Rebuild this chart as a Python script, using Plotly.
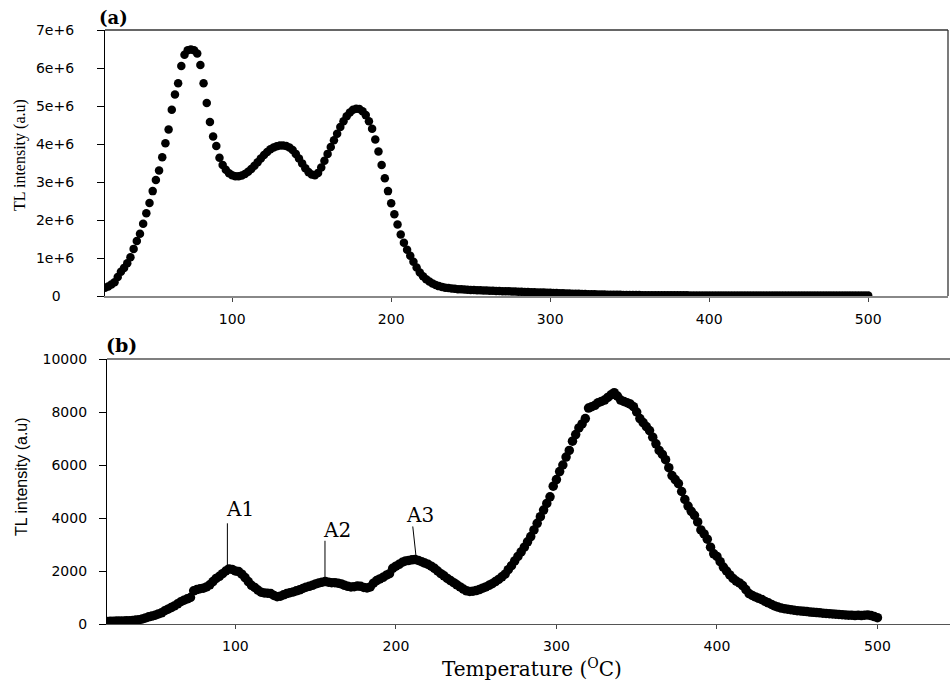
import plotly.graph_objects as go

# ---------------- data ----------------
temps = list(range(20, 501, 2))  # temperature grid (°C), 241 points

# panel (a): TL intensity in units of 1e6 (a.u.)
top_vals_m = [
    0.22, 0.25, 0.30, 0.36, 0.50, 0.64, 0.74, 0.86, 1.02, 1.24,   # 20-38
    1.45, 1.64, 1.90, 2.18, 2.45, 2.76, 3.05, 3.30, 3.65, 4.02,   # 40-58
    4.38, 4.90, 5.30, 5.60, 6.05, 6.35, 6.47, 6.49, 6.47, 6.38,   # 60-78
    6.08, 5.60, 5.08, 4.58, 4.20, 3.95, 3.64, 3.45, 3.32, 3.23,   # 80-98
    3.18, 3.15, 3.15, 3.17, 3.21, 3.27, 3.34, 3.43, 3.52, 3.62,   # 100-118
    3.71, 3.79, 3.86, 3.91, 3.94, 3.96, 3.96, 3.95, 3.91, 3.84,   # 120-138
    3.74, 3.62, 3.49, 3.36, 3.26, 3.20, 3.18, 3.24, 3.38, 3.56,   # 140-158
    3.74, 3.92, 4.10, 4.27, 4.45, 4.60, 4.73, 4.83, 4.90, 4.93,   # 160-178
    4.92, 4.86, 4.76, 4.60, 4.40, 4.12, 3.80, 3.45, 3.10, 2.76,   # 180-198
    2.44, 2.15, 1.88, 1.62, 1.40, 1.22, 1.06, 0.90, 0.75, 0.62,   # 200-218
    0.52, 0.44, 0.38, 0.33, 0.29, 0.26, 0.24, 0.22, 0.21, 0.20,   # 220-238
    0.19, 0.18, 0.175, 0.17, 0.165, 0.16, 0.155, 0.152, 0.149, 0.146,  # 240-258
    0.143, 0.14, 0.137, 0.134, 0.131, 0.128, 0.125, 0.122, 0.119, 0.116,  # 260-278
    0.113, 0.11, 0.107, 0.104, 0.101, 0.098, 0.095, 0.092, 0.089, 0.086,  # 280-298
    0.083, 0.080, 0.077, 0.074, 0.071, 0.068, 0.065, 0.062, 0.059, 0.056,  # 300-318
    0.053, 0.050, 0.048, 0.046, 0.044, 0.042, 0.040, 0.038, 0.036, 0.034,  # 320-338
    0.032, 0.031, 0.030, 0.029, 0.028, 0.027, 0.026, 0.025, 0.024, 0.023,  # 340-358
    0.022, 0.022, 0.021, 0.021, 0.020, 0.020, 0.019, 0.019, 0.018, 0.018,  # 360-378
    0.018, 0.017, 0.017, 0.017, 0.016, 0.016, 0.016, 0.015, 0.015, 0.015,  # 380-398
    0.015, 0.014, 0.014, 0.014, 0.014, 0.013, 0.013, 0.013, 0.013, 0.013,  # 400-418
    0.012, 0.012, 0.012, 0.012, 0.012, 0.012, 0.012, 0.012, 0.012, 0.012,  # 420-438
    0.012, 0.012, 0.011, 0.011, 0.011, 0.011, 0.011, 0.011, 0.011, 0.011,  # 440-458
    0.011, 0.011, 0.011, 0.011, 0.011, 0.011, 0.011, 0.011, 0.011, 0.011,  # 460-478
    0.010, 0.010, 0.010, 0.010, 0.010, 0.010, 0.010, 0.010, 0.010, 0.010,  # 480-498
    0.010,                                                            # 500
]

# panel (b): TL intensity (a.u.)
bottom_vals = [
    90, 100, 100, 110, 110, 110, 120, 120, 130, 150,            # 20-38
    160, 190, 230, 270, 300, 330, 380, 420, 500, 560,           # 40-58
    620, 680, 760, 840, 900, 950, 1000, 1250, 1300, 1330,       # 60-78
    1350, 1400, 1480, 1600, 1720, 1800, 1900, 2000, 2080, 2060, # 80-98
    2000, 1980, 1880, 1750, 1600, 1460, 1380, 1280, 1200, 1170, # 100-118
    1160, 1150, 1080, 1030, 1050, 1100, 1150, 1180, 1210, 1250, # 120-138
    1290, 1340, 1390, 1420, 1460, 1510, 1550, 1580, 1600, 1580, # 140-158
    1560, 1560, 1540, 1510, 1460, 1420, 1400, 1410, 1430, 1420, # 160-178
    1380, 1360, 1400, 1540, 1640, 1700, 1760, 1840, 1900, 2100, # 180-198
    2180, 2250, 2330, 2380, 2400, 2420, 2430, 2400, 2350, 2300, # 200-218
    2250, 2180, 2100, 2000, 1900, 1820, 1720, 1640, 1560, 1480, # 220-238
    1400, 1320, 1250, 1230, 1240, 1260, 1300, 1350, 1400, 1460, # 240-258
    1520, 1600, 1680, 1780, 1880, 2050, 2200, 2380, 2550, 2720, # 260-278
    2900, 3100, 3300, 3550, 3800, 4050, 4300, 4550, 4800, 5200, # 280-298
    5450, 5750, 6000, 6300, 6550, 6900, 7150, 7400, 7550, 7750, # 300-318
    8150, 8200, 8250, 8350, 8400, 8450, 8550, 8650, 8730, 8600, # 320-338
    8450, 8400, 8350, 8300, 8200, 8000, 7750, 7600, 7450, 7300, # 340-358
    7050, 6800, 6550, 6400, 6200, 5900, 5600, 5450, 5300, 5000, # 360-378
    4700, 4450, 4250, 4100, 3850, 3550, 3400, 3200, 2900, 2650, # 380-398
    2550, 2350, 2150, 2000, 1850, 1720, 1620, 1550, 1450, 1300, # 400-418
    1150, 1080, 1020, 970, 920, 850, 800, 740, 680, 640,        # 420-438
    600, 580, 560, 540, 520, 500, 490, 480, 470, 450,           # 440-458
    440, 430, 420, 410, 400, 390, 380, 370, 360, 350,           # 460-478
    340, 330, 330, 320, 330, 320, 330, 340, 320, 280,           # 480-498
    240,                                                        # 500
]

x_ticks = [100, 200, 300, 400, 500]
x_tick_labels = ["100", "200", "300", "400", "500"]
top_y_ticks = [0, 1e6, 2e6, 3e6, 4e6, 5e6, 6e6, 7e6]
top_y_labels = ["0", "1e+6", "2e+6", "3e+6", "4e+6", "5e+6", "6e+6", "7e+6"]
bottom_y_ticks = [0, 2000, 4000, 6000, 8000, 10000]
bottom_y_labels = ["0", "2000", "4000", "6000", "8000", "10000"]

peak_names = ["A1", "A2", "A3"]
peak_temps = [96, 156, 212]

# ---------------- figure ----------------
W, H = 950, 684
top_vals = [v * 1e6 for v in top_vals_m]
NB = "\u00a0"
# top-panel labels are centred in the reference: pad the short "0" label
top_y_text = [t if len(t) > 1 else t + NB * 3 for t in top_y_labels]

fig = go.Figure()
fig.add_trace(go.Scatter(x=temps, y=top_vals, mode="markers",
                         marker=dict(color="black", size=8.5, line=dict(width=0)),
                         xaxis="x", yaxis="y", showlegend=False, hoverinfo="skip"))
fig.add_trace(go.Scatter(x=temps, y=bottom_vals, mode="markers",
                         marker=dict(color="black", size=9.5, line=dict(width=0)),
                         xaxis="x2", yaxis="y2", showlegend=False, hoverinfo="skip"))

tickfont = dict(family="DejaVu Sans", size=14, color="black")
axis_common = dict(showgrid=False, zeroline=False, tickfont=tickfont, automargin=False)

fig.update_layout(
    width=W, height=H, autosize=False,
    margin=dict(l=0, r=0, t=0, b=0, pad=0, autoexpand=False),
    paper_bgcolor="white", plot_bgcolor="white",
    showlegend=False,
    xaxis=dict(domain=[105 / W, 948 / W], range=[20, 550.2], anchor="y",
               tickvals=x_ticks, ticktext=x_tick_labels,
               ticks="outside", ticklen=4, tickcolor="#444",
               showline=True, linecolor="#888", linewidth=1.6,
               ticklabelstandoff=5, **axis_common),
    yaxis=dict(domain=[1 - 296 / H, 1 - 30 / H], range=[0, 7e6], anchor="x",
               tickvals=top_y_ticks, ticktext=top_y_text,
               ticks="outside", ticklen=7, tickcolor="black",
               showline=True, linecolor="black", linewidth=1.2,
               ticklabelstandoff=20, **axis_common),
    xaxis2=dict(domain=[107 / W, 1.0], range=[20, 545.2], anchor="y2",
                tickvals=x_ticks, ticktext=x_tick_labels,
                ticks="outside", ticklen=4, tickcolor="#444",
                showline=True, linecolor="#555", linewidth=1.3,
                ticklabelstandoff=5, **axis_common),
    yaxis2=dict(domain=[1 - 624 / H, 1 - 359 / H], range=[0, 10000], anchor="x2",
                tickvals=bottom_y_ticks, ticktext=bottom_y_labels,
                ticks="outside", ticklen=7, tickcolor="black",
                showline=True, linecolor="black", linewidth=1.2,
                ticklabelstandoff=9, **axis_common),
)

# frame lines (top + right for panel a, top for panel b)
frame = dict(color="#333", width=1.3)
fig.add_shape(type="line", xref="x domain", yref="y domain", x0=0, x1=1, y0=1, y1=1, line=frame)
fig.add_shape(type="line", xref="x domain", yref="y domain", x0=1, x1=1, y0=0, y1=1, line=frame)
fig.add_shape(type="line", xref="x2 domain", yref="y2 domain", x0=0, x1=1, y0=1, y1=1,
              line=dict(color="#555", width=1.3))

# peak labels for panel b: (line-x shift, line-bottom gap, line-top rise, top-x shift, text-x shift, text rise)
label_style = [(-1.0, 110, 1720, 0.0, 6.6, 2250),
               (-0.2, 90, 1540, 0.0, 7.5, 1950),
               (0.5, 140, 1250, -2.0, 3.3, 1700)]
for name, t, (lx, gap, rise, tx, dx, trise) in zip(peak_names, peak_temps, label_style):
    v = bottom_vals[temps.index(t)]
    fig.add_shape(type="line", xref="x2", yref="y2",
                  x0=t + lx, x1=t + lx + tx, y0=v + gap, y1=v + rise,
                  line=dict(color="black", width=1))
    fig.add_annotation(xref="x2", yref="y2", x=t + dx, y=v + trise,
                       text=name, showarrow=False, xanchor="center", yanchor="middle",
                       font=dict(family="DejaVu Serif", size=20, color="black"))

# titles / panel labels
common = dict(xref="paper", yref="paper", showarrow=False, xanchor="center", yanchor="middle")
fig.add_annotation(x=20 / W, y=1 - 155 / H, text="TL intensity (a.u)", textangle=-90,
                   font=dict(family="Liberation Serif", size=16, color="black"), **common)
fig.add_annotation(x=22 / W, y=1 - 477 / H, text="TL intensity (a.u)", textangle=-90,
                   font=dict(family="Liberation Sans Narrow, Liberation Sans", size=16, color="black"),
                   **common)
fig.add_annotation(x=532 / W, y=1 - 668 / H, text="Temperature (<sup>O</sup>C)",
                   font=dict(family="DejaVu Serif", size=20, color="black"), **common)
fig.add_annotation(x=113 / W, y=1 - 17 / H, text="<b>(a)</b>",
                   font=dict(family="DejaVu Serif", size=18, color="black"), **common)
fig.add_annotation(x=122 / W, y=1 - 345 / H, text="<b>(b)</b>",
                   font=dict(family="DejaVu Serif", size=19, color="black"), **common)

fig.write_html(
    "out.html",
    config={"displayModeBar": False, "responsive": False},
    post_script=(
        "document.documentElement.style.margin='0';"
        "document.documentElement.style.padding='0';"
        "document.body.style.margin='0';"
        "document.body.style.padding='0';"
        "document.body.style.overflow='hidden';"
    ),
)
